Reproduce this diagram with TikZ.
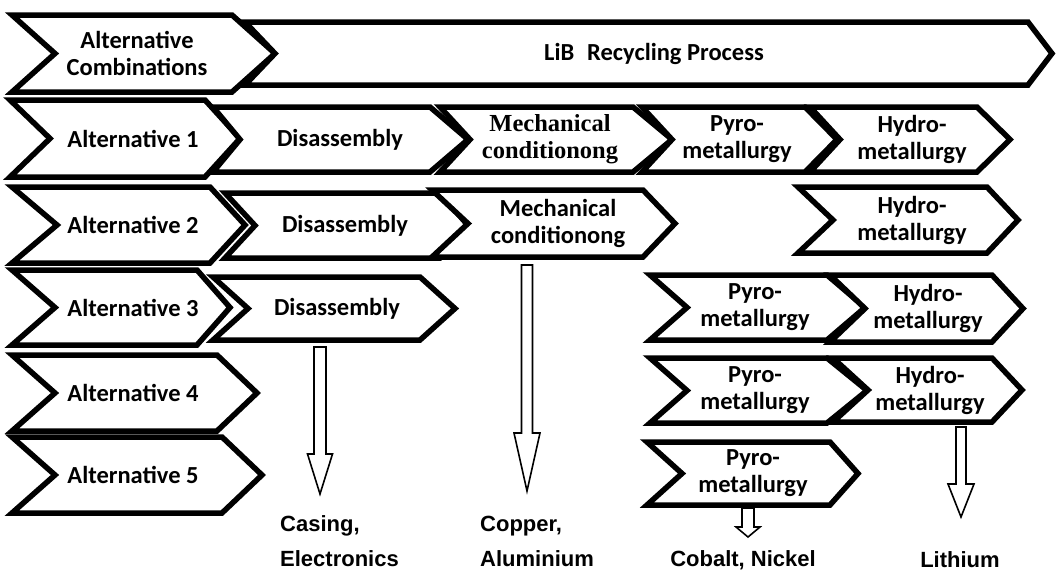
\documentclass[tikz,border=0pt]{standalone}
\usepackage{fontspec}
\setmainfont{Carlito}
\newfontfamily\labelfont{Liberation Sans}
\newfontfamily\seriffont{Liberation Serif}
\usetikzlibrary{calc}

\tikzset{
  chevline/.style={draw=black, fill=white, line width=5.5pt, line join=miter},
  chevtext/.style={font=\bfseries\fontsize{24.5}{27}\selectfont, align=center, inner sep=0pt},
  hollow/.style={draw=black, fill=white, line width=1.6pt, line join=miter},
  product/.style={font=\labelfont\bfseries\fontsize{22}{35}\selectfont, align=left, inner sep=0pt},
}

% #1 name, #2 left x, #3 notch x, #4 corner x, #5 tip x, #6 top y, #7 bottom y, #8 text x, #9 text
\newcommand\chev[9]{%
  \draw[chevline] (#2,#6) -- (#4,#6) -- (#5,{(#6+#7)/2}) -- (#4,#7) -- (#2,#7)
    -- (#3,{(#6+#7)/2}) -- cycle;
  \node[chevtext] (#1) at (#8,{(#6+#7)/2}) {#9};
}

% hollow block arrow: #1 start, #2 tip, #3 shaft half width, #4 head half width, #5 head length
\newcommand\blockarrow[5]{%
  \draw[hollow] let \p1=(#1), \p2=(#2) in
    (\x1-#3pt,\y1) -- (\x1-#3pt,\y2+#5pt) -- (\x1-#4pt,\y2+#5pt) -- (\x2,\y2)
    -- (\x1+#4pt,\y2+#5pt) -- (\x1+#3pt,\y2+#5pt) -- (\x1+#3pt,\y1) -- cycle;
}

\begin{document}
\begin{tikzpicture}[x=1pt,y=-1pt]
\useasboundingbox[fill=white] (0,0) rectangle (1057,573);

% header
\chev{comb}{12}{55}{232}{275}{15}{92}{137}{Alternative\\Combinations}
\chev{lib}{245}{275}{1028}{1052}{22}{85}{654}{LiB\hspace{0.3em} Recycling Process}

% alternatives column
\chev{alt1}{10}{50}{205}{240}{100}{177}{133}{Alternative 1}
\chev{alt2}{12}{57}{210}{245}{187}{263}{133}{Alternative 2}
\chev{alt3}{12}{55}{197}{230}{270}{345}{133}{Alternative 3}
\chev{alt4}{12}{55}{217}{257}{355}{431}{133}{Alternative 4}
\chev{alt5}{12}{55}{222}{262}{437}{513}{133}{Alternative 5}

% alternative 1
\chev{dis1}{213}{240}{430}{468}{107}{172}{340}{Disassembly}
\chev{mech1}{440}{470}{633}{672}{107}{172}{550}{\seriffont Mechanical\\\seriffont conditionong}
\chev{pyro1}{642}{672}{805}{837}{107}{172}{737}{Pyro-\\metallurgy}
\chev{hydro1}{810}{840}{977}{1010}{107}{172}{912}{Hydro-\\metallurgy}

% alternative 2
\chev{dis2}{225}{255}{440}{468}{193}{258}{345}{Disassembly}
\chev{mech2}{432}{468}{643}{675}{190}{257}{558}{Mechanical\\conditionong}
\chev{hydro2}{798}{833}{987}{1018}{187}{253}{912}{Hydro-\\metallurgy}

% alternative 3
\chev{dis3}{213}{248}{420}{455}{277}{340}{337}{Disassembly}
\chev{pyro3}{650}{687}{827}{865}{275}{340}{755}{Pyro-\\metallurgy}
\chev{hydro3}{830}{865}{992}{1023}{275}{342}{928}{Hydro-\\metallurgy}

% alternative 4
\chev{pyro4}{650}{687}{827}{867}{358}{423}{755}{Pyro-\\metallurgy}
\chev{hydro4}{833}{868}{992}{1022}{358}{422}{930}{Hydro-\\metallurgy}

% alternative 5
\chev{pyro5}{647}{682}{830}{858}{442}{505}{753}{Pyro-\\metallurgy}

% recovered products
\node[product, anchor=west] (casing) at (280,541) {Casing,\\Electronics};
\node[product, anchor=west] (copper) at (480,541) {Copper,\\Aluminium};
\node[product] (cobalt) at (743,560) {Cobalt, Nickel};
\node[product] (lithium) at (960,560) {Lithium};

% output arrows
\coordinate (casing-from) at (320,347);
\coordinate (casing-to) at (320,494);
\coordinate (copper-from) at (527,265);
\coordinate (copper-to) at (527,491);
\coordinate (cobalt-from) at (748,508);
\coordinate (cobalt-to) at (748,537);
\coordinate (lithium-from) at (961,427);
\coordinate (lithium-to) at (961,517);

\blockarrow{casing-from}{casing-to}{6}{12.5}{40}
\blockarrow{copper-from}{copper-to}{5.5}{13}{58}
\blockarrow{cobalt-from}{cobalt-to}{6}{12}{10}
\blockarrow{lithium-from}{lithium-to}{5}{13}{33}
\end{tikzpicture}
\end{document}
